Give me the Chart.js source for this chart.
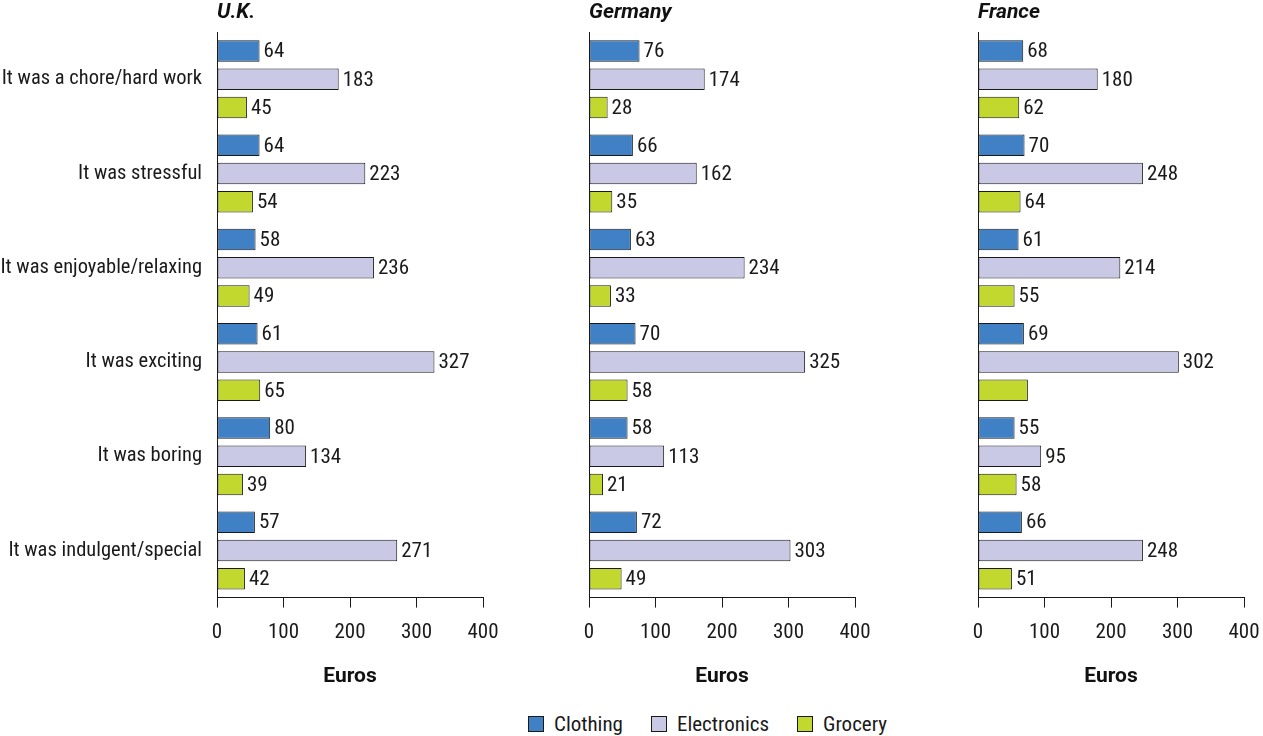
<!DOCTYPE html>
<html>
<head>
<meta charset="utf-8">
<script src="https://cdn.jsdelivr.net/npm/chart.js@4"></script>
<style>
  html, body { margin: 0; padding: 0; background: #fff; }
  body { width: 1263px; height: 736px; position: relative; overflow: hidden;
         font-family: Roboto, sans-serif; font-stretch: condensed; color: #1a1a1a; }
  .panel { position: absolute; top: 0; height: 700px; }
  #legend { position: absolute; top: 712px; left: 528px; display: flex; align-items: center; font-size: 21px; }
  #legend span.box { display: inline-block; width: 14px; height: 14px; border: 1px solid #1a1a1a; margin-right: 10px; }
  #legend .item { display: flex; align-items: center; margin-right: 28px; }
</style>
</head>
<body>
<div class="panel" style="left:0;width:513px"><canvas id="uk"></canvas></div>
<div class="panel" style="left:570px;width:315px"><canvas id="de"></canvas></div>
<div class="panel" style="left:959px;width:315px"><canvas id="fr"></canvas></div>
<div id="legend"></div>

<script>
const FONT = 'Roboto, sans-serif';

const categories = [
    'It was a chore/hard work',
    'It was stressful',
    'It was enjoyable/relaxing',
    'It was exciting',
    'It was boring',
    'It was indulgent/special'
];
const seriesNames = ['Clothing', 'Electronics', 'Grocery'];
const colors = ['#4080c4', '#c9c9e6', '#c3d82e'];
const xTicks = [0, 100, 200, 300, 400];

// U.K.
const ukClothing = [64, 64, 58, 61, 80, 57];
const ukElectronics = [183, 223, 236, 327, 134, 271];
const ukGrocery = [45, 54, 49, 65, 39, 42];
// Germany
const deClothing = [76, 66, 63, 70, 58, 72];
const deElectronics = [174, 162, 234, 325, 113, 303];
const deGrocery = [28, 35, 33, 58, 21, 49];
// France
const frClothing = [68, 70, 61, 69, 55, 66];
const frElectronics = [180, 248, 214, 302, 95, 248];
const frGrocery = [62, 64, 55, 75, 58, 51];

// value labels at the end of each bar
const valueLabels = {
    id: 'valueLabels',
    afterDatasetsDraw(chart, args, opts) {
        const ctx = chart.ctx;
        ctx.save();
        ctx.font = 'condensed 21px ' + FONT;
        ctx.fillStyle = '#1a1a1a';
        ctx.textBaseline = 'middle';
        chart.data.datasets.forEach((ds, i) => {
            chart.getDatasetMeta(i).data.forEach((bar, j) => {
                if ((opts.skip || []).includes(i + ':' + j)) return;
                ctx.fillText(ds.data[j], bar.x + 4, bar.y + 1);
            });
        });
        ctx.restore();
    }
};

// 'condensed' goes into the weight slot so the font string picks Roboto Condensed
function panelChart(elementId, title, series, showCats, yWidth, skip) {
    return new Chart(document.getElementById(elementId), {
        type: 'bar',
        data: {
            labels: categories,
            datasets: series.map((d, i) => ({
                label: seriesNames[i],
                data: d,
                backgroundColor: colors[i],
                borderColor: '#1a1a1a',
                borderWidth: 1,
                borderSkipped: false,
                categoryPercentage: 0.9,
                barPercentage: 0.76,
            })),
        },
        options: {
            indexAxis: 'y',
            responsive: true,
            maintainAspectRatio: false,
            animation: false,
            layout: { padding: { bottom: 11, right: 30 } },
            plugins: {
                legend: { display: false },
                tooltip: { enabled: false },
                title: {
                    display: true,
                    text: title,
                    align: 'start',
                    fullSize: false,
                    color: '#111',
                    font: { family: FONT, size: 21, weight: 'bold', style: 'italic' },
                    padding: { top: 0, bottom: 7 },
                },
                valueLabels: { skip: skip },
            },
            scales: {
                x: {
                    min: 0,
                    max: 400,
                    afterBuildTicks: s => { s.ticks = xTicks.map(v => ({ value: v })); },
                    grid: { drawOnChartArea: false, tickLength: 10, color: '#1a1a1a' },
                    border: { color: '#1a1a1a', width: 1 },
                    ticks: { color: '#1a1a1a', padding: 13, font: { family: FONT, size: 21, weight: 'condensed' } },
                    title: {
                        display: true,
                        text: 'Euros',
                        color: '#111',
                        font: { family: FONT, size: 21, weight: 'bold' },
                        padding: { top: 5, bottom: 0 },
                    },
                },
                y: {
                    offset: true,
                    grid: { display: false },
                    border: { color: '#1a1a1a', width: 1 },
                    ticks: { display: showCats, color: '#1a1a1a', padding: 7, font: { family: FONT, size: 20.5, weight: 'condensed' } },
                    afterFit: s => { s.width = yWidth; },
                },
            },
        },
        plugins: [valueLabels],
    });
}

panelChart('uk', 'U.K.', [ukClothing, ukElectronics, ukGrocery], true, 217, []);
panelChart('de', 'Germany', [deClothing, deElectronics, deGrocery], false, 19, []);
panelChart('fr', 'France', [frClothing, frElectronics, frGrocery], false, 19, ['2:3']);

// legend
const legend = document.getElementById('legend');
seriesNames.forEach((name, i) => {
    const item = document.createElement('div');
    item.className = 'item';
    const box = document.createElement('span');
    box.className = 'box';
    box.style.background = colors[i];
    item.appendChild(box);
    item.appendChild(document.createTextNode(name));
    legend.appendChild(item);
});
</script>
</body>
</html>
